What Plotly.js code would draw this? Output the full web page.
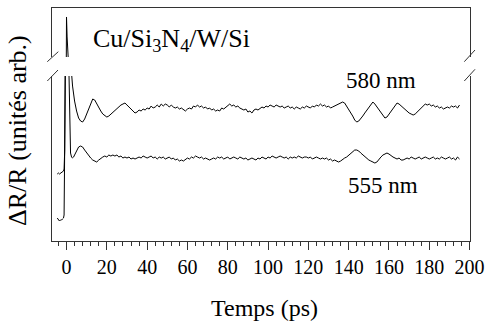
<!DOCTYPE html>
<html>
<head>
<meta charset="utf-8">
<script src="https://cdn.plot.ly/plotly-3.0.1.min.js"></script>
<style>html,body{margin:0;padding:0;background:#fff;}#chart{width:486px;height:324px;}</style>
</head>
<body>
<div id="chart"></div>
<script>
// Time (ps)
var time = [-4.6,-4,-3.5,-3,-2.5,-2,-1.5,-1.2,-0.9,-0.6,-0.3,0,0.3,0.6,1,1.5,2,2.5,3,3.5,
4,5,6,7,8,9,10,11,12,13,14,15,16,17,18,19,20,21,22,23,24,25,26,27,28,29,30,31,32,33,34,35,36,37,38,39,
40,41,42,43,44,45,46,47,48,49,50,51,52,53,54,55,56,57,58,59,60,61,62,63,64,65,66,67,68,69,
70,71,72,73,74,75,76,77,78,79,80,81,82,83,84,85,86,87,88,89,90,91,92,93,94,95,96,97,98,99,
100,101,102,103,104,105,106,107,108,109,110,111,112,113,114,115,116,117,118,119,120,121,122,123,124,125,126,127,128,129,
130,131,132,133,134,135,136,137,138,139,140,141,142,143,144,145,146,147,148,149,150,151,152,153,154,155,156,157,158,159,
160,161,162,163,164,165,166,167,168,169,170,171,172,173,174,175,176,177,178,179,180,181,182,183,184,185,186,187,188,189,
190,191,192,193,194,195];

// ΔR/R, 580 nm (arbitrary units, broken axis)
var r580 = [67,68,67,68,68,69,70,72,90,200,330,440,420,330,260,220,190,168,155,147,
140,130,123,120,119,122,127,133,138,142,141,137,134,130,127,125,124,125,127,129,131,133,135,136,137,138,136,134,131,129,128,129,131,130,132,131,
133,132,135,133,134,136,134,137,135,137,136,134,136,134,133,134,132,133,131,130,132,133,132,135,134,136,134,135,133,134,
132,133,131,132,130,131,130,133,132,134,135,137,135,136,134,135,133,132,131,132,129,130,128,131,132,131,133,134,133,135,
134,136,135,134,136,135,134,135,133,134,135,133,134,132,134,133,132,134,133,135,134,133,135,134,136,135,137,135,136,134,
135,133,134,135,136,137,138,139,138,135,132,129,125,121,119,120,122,125,128,131,134,137,139,137,134,131,128,125,123,124,
127,130,133,135,138,137,135,133,131,130,128,127,126,127,129,131,133,135,137,136,137,135,136,134,135,133,134,132,133,134,
133,135,134,135,133,136];

// ΔR/R, 555 nm
var r555 = [23,21,20,21,21,22,23,26,80,160,260,330,340,300,190,110,88,84,83,84,
86,90,94,95,94,91,88,85,83,81,80,79,81,83,84,85,84,86,85,86,85,86,84,85,83,84,83,84,82,83,82,83,84,83,85,84,
83,84,85,83,84,82,84,83,84,82,83,84,82,83,81,82,80,81,80,82,83,82,84,83,85,84,83,84,82,83,
82,81,82,83,82,84,83,84,82,83,84,82,83,84,83,82,84,83,82,83,81,82,83,82,81,83,82,84,83,82,
84,83,85,84,83,84,85,84,83,84,82,84,83,84,83,85,84,83,84,84,83,84,82,83,84,83,82,83,82,83,
81,82,80,81,80,79,80,82,83,84,86,88,90,91,91,90,88,86,84,82,81,80,79,78,79,82,84,86,87,88,
87,85,84,83,82,83,81,81,82,83,82,84,83,82,83,84,82,83,84,83,82,83,84,82,83,82,84,83,82,83,
84,82,83,81,84,82];

var seriesNames = ['580 nm', '555 nm'];
var titleText = 'Cu/Si<sub>3</sub>N<sub>4</sub>/W/Si';
var yTitle = 'ΔR/R (unités arb.)';
var xTitle = 'Temps (ps)';
var xTickVals = [0,20,40,60,80,100,120,140,160,180,200];

var SERIF = '"Liberation Serif", "Times New Roman", Times, serif';
var lineStyle = {color:'#000', width:1};
var traces = [
  {x:time, y:r580, xaxis:'x', yaxis:'y', mode:'lines', line:lineStyle, name:seriesNames[0]},
  {x:time, y:r555, xaxis:'x', yaxis:'y', mode:'lines', line:lineStyle, name:seriesNames[1]},
  {x:time, y:r580, xaxis:'x2', yaxis:'y2', mode:'lines', line:lineStyle, name:seriesNames[0]},
  {x:time, y:r555, xaxis:'x2', yaxis:'y2', mode:'lines', line:lineStyle, name:seriesNames[1]}
];

function px2x(p){return (p-52)/418;}
function py2y(p){return (241-p)/233;}
var slash = function(x0,y0,x1,y1){return {type:'line', xref:'paper', yref:'paper', x0:px2x(x0), y0:py2y(y0), x1:px2x(x1), y1:py2y(y1), line:{color:'#333', width:1}};};
function label(text, cx, cy, size, extra){
  var a = {text:text, xref:'paper', yref:'paper', x:px2x(cx), y:py2y(cy), xanchor:'center', yanchor:'middle', showarrow:false, font:{family:SERIF, size:size, color:'#000'}};
  for (var k in (extra||{})) a[k] = extra[k];
  return a;
}

var layout = {
  width:486, height:324,
  margin:{l:52, r:16, t:8, b:83},
  paper_bgcolor:'#fff', plot_bgcolor:'#fff',
  showlegend:false,
  font:{family:SERIF, color:'#000', size:20},
  xaxis:{range:[-7.2,200.2], anchor:'y', showline:true, linecolor:'#333', linewidth:1,
    tickvals:xTickVals, ticks:'outside', ticklen:8, tickcolor:'#333', tickwidth:1,
    minor:{dtick:4, tick0:0, ticks:'outside', ticklen:4, tickcolor:'#333', tickwidth:1, showgrid:false},
    showgrid:false, zeroline:false, tickfont:{family:SERIF, size:20, color:'#000'}},
  xaxis2:{matches:'x', anchor:'y2', side:'top', showline:true, linecolor:'#333', linewidth:1,
    showticklabels:false, ticks:'', showgrid:false, zeroline:false},
  yaxis:{domain:[0,0.708], range:[0,165], showline:true, mirror:true, linecolor:'#333', linewidth:1,
    showticklabels:false, ticks:'', showgrid:false, zeroline:false},
  yaxis2:{domain:[0.79,1], range:[400,449], showline:true, mirror:true, linecolor:'#333', linewidth:1,
    showticklabels:false, ticks:'', showgrid:false, zeroline:false},
  shapes:[slash(47.3,61.7,58.3,51.7), slash(47.3,81,58,70), slash(464.3,61.7,475,50), slash(464.3,81,475,69.3)],
  annotations:[
    label(seriesNames[0], 381, 80, 23),
    label(seriesNames[1], 383, 185, 23),
    label(titleText, 91, 40, 26, {xanchor:'left'}),
    label(yTitle, 17, 131, 26, {textangle:-90}),
    label(xTitle, 264, 308, 24)
  ]
};
Plotly.newPlot('chart', traces, layout, {staticPlot:true, displayModeBar:false});
</script>
</body>
</html>
